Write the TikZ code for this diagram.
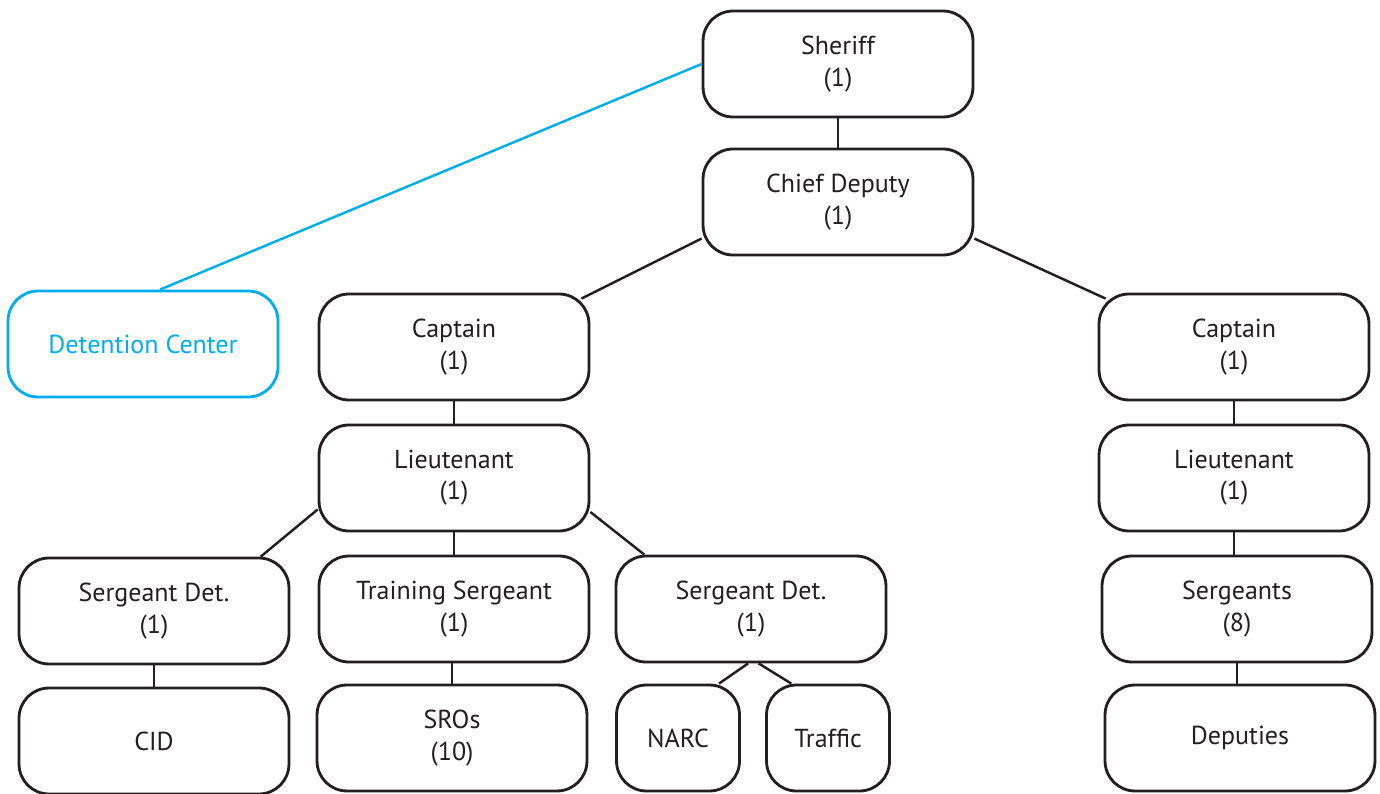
\documentclass[tikz,border=0pt]{standalone}
\usepackage{fontspec}
\setmainfont{PT Sans}
\usepackage{tikz}
\usetikzlibrary{positioning,calc}
\definecolor{inkline}{HTML}{231F20}
\definecolor{detblue}{HTML}{00AEEF}

\begin{document}
\begin{tikzpicture}[x=0.02cm, y=-0.02cm,
	post/.style={draw=inkline, line width=1.6pt, rounded corners=0.6cm, fill=white, align=center,
		minimum width=5.4cm, minimum height=2.12cm, inner sep=0,
		font=\fontsize{14.8}{17.8}\selectfont, text=inkline},
	smallpost/.style={post, minimum width=2.46cm},
	detpost/.style={post, draw=detblue, text=detblue},
	link/.style={draw=inkline, line width=1.4pt}]
	\useasboundingbox (0,0) rectangle (1380,794);

	% command staff
	\node[post] at(838,64) (sheriff) {Sheriff\\(1)};
	\node[post] at(838,202) (chief) {Chief Deputy\\(1)};
	\node[detpost] at(143,344) (detention) {Detention Center};

	% left branch
	\node[post] at(454,347) (capL) {Captain\\(1)};
	\node[post] at(454,478) (ltL) {Lieutenant\\(1)};
	\node[post] at(154,611) (sgtL) {Sergeant Det.\\(1)};
	\node[post] at(454,609) (trainsgt) {Training Sergeant\\(1)};
	\node[post] at(751,609) (sgtR) {Sergeant Det.\\(1)};
	\node[post] at(154,741) (cid) {CID};
	\node[post] at(452,738) (sros) {SROs\\(10)};
	\node[smallpost] at(678,738) (narc) {NARC};
	\node[smallpost] at(828,738) (traffic) {Traffic};

	% right branch
	\node[post] at(1234,347) (capR) {Captain\\(1)};
	\node[post] at(1234,478) (ltR) {Lieutenant\\(1)};
	\node[post] at(1237,609) (sergeants) {Sergeants\\(8)};
	\node[post] at(1240,738) (deputies) {Deputies};

	% reporting lines
	\draw[link] (sheriff.south) -- (chief.north);
	\draw[draw=detblue, line width=1.4pt] (sheriff.west) -- ($(detention.north)+(17,0)$);
	\draw[link] (chief.195) -- ($(capL.north east)+(-9,6)$);
	\draw[link] (chief.-15) -- ($(capR.north west)+(8,6)$);
	\draw[link] (capL.south) -- (ltL.north);
	\draw[link] (capR.south) -- (ltR.north);
	\draw[link] (ltL.193) -- (sgtL.27);
	\draw[link] (ltL.south) -- (trainsgt.north);
	\draw[link] (ltL.-14) -- (sgtR.153);
	\draw[link] (sgtL.south) -- (cid.north);
	\draw[link] (trainsgt.south -| sros.north) -- (sros.north);
	\draw[link] (sgtR.-93) -- (narc.53);
	\draw[link] (sgtR.-82) -- (traffic.124);
	\draw[link] (ltR.south) -- (ltR.south |- sergeants.north);
	\draw[link] (sergeants.south) -- (sergeants.south |- deputies.north);
\end{tikzpicture}
\end{document}
